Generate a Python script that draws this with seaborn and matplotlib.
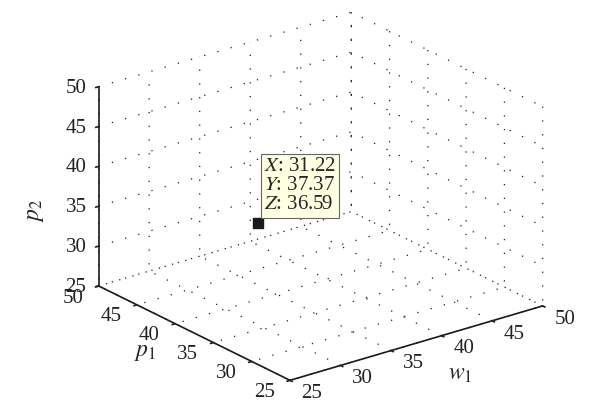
import matplotlib
matplotlib.use("Agg")
import matplotlib.pyplot as plt
import seaborn as sns
from mpl_toolkits.mplot3d import proj3d

# data tip point
w1 = [31.22]
p1 = [37.37]
p2 = [36.59]
ticks = [25, 30, 35, 40, 45, 50]

sns.set_theme(style="white")
plt.rcParams['font.family'] = ['Liberation Serif', 'DejaVu Serif']
plt.rcParams['mathtext.fontset'] = 'stix'

fig = plt.figure(figsize=(6, 4.19), dpi=100)
ax = fig.add_axes([0.025, 0.018, 1, 1], projection='3d', proj_type='ortho')
ax.view_init(elev=22.4, azim=-127.7)
ax.set_box_aspect((1, 0.98, 0.675), zoom=1.15)

ax.scatter(w1, p1, p2, marker='s', s=50, color='k', depthshade=False)

ax.set_xlim(25, 50)
ax.set_ylim(25, 50)
ax.set_zlim(25, 50)
ax.set_xticks(ticks)
ax.set_yticks(ticks)
ax.set_zticks(ticks)
ax.tick_params(labelsize=15, colors='#222222')
ax.tick_params(axis='z', pad=0)
ax.tick_params(axis='x', pad=1.5)
ax.tick_params(axis='y', pad=1.5)
plt.setp(ax.get_xticklabels(), ha='left', va='baseline')
plt.setp(ax.get_yticklabels(), ha='right', va='baseline')
plt.setp(ax.get_zticklabels(), va='center_baseline')

for axis in (ax.xaxis, ax.yaxis, ax.zaxis):
    axis.set_pane_color((1, 1, 1, 0))
    axis.pane.set_edgecolor('none')
    axis._axinfo['grid'].update(color='k', linewidth=0.9, linestyle=(0, (1, 10)))
    axis._axinfo['tick'].update(inward_factor=0.15, outward_factor=0)
    axis.line.set_color('k')
    axis.line.set_linewidth(1.2)

# axis labels placed horizontally like the original
fig.text(35 / 600, 1 - 210 / 419, '$p_2$', fontsize=17, rotation=90, ha='center', va='center')
fig.text(145 / 600, 1 - 352 / 419, '$p_1$', fontsize=17, ha='center', va='center')
fig.text(460 / 600, 1 - 374 / 419, '$w_1$', fontsize=17, ha='center', va='center')

xp, yp, _ = proj3d.proj_transform(w1[0], p1[0], p2[0], ax.get_proj())
ax.annotate(f"$X$: {w1[0]:.2f}\n$Y$: {p1[0]:.2f}\n$Z$: {p2[0]:.2f}",
            xy=(xp, yp), xycoords='data', xytext=(4, 6), textcoords='offset points',
            fontsize=15, ha='left', va='bottom', linespacing=1.0,
            bbox=dict(boxstyle='square,pad=0.15', fc='#ffffe1', ec='#666666', lw=0.8))

fig.savefig("out.png", dpi=100)
